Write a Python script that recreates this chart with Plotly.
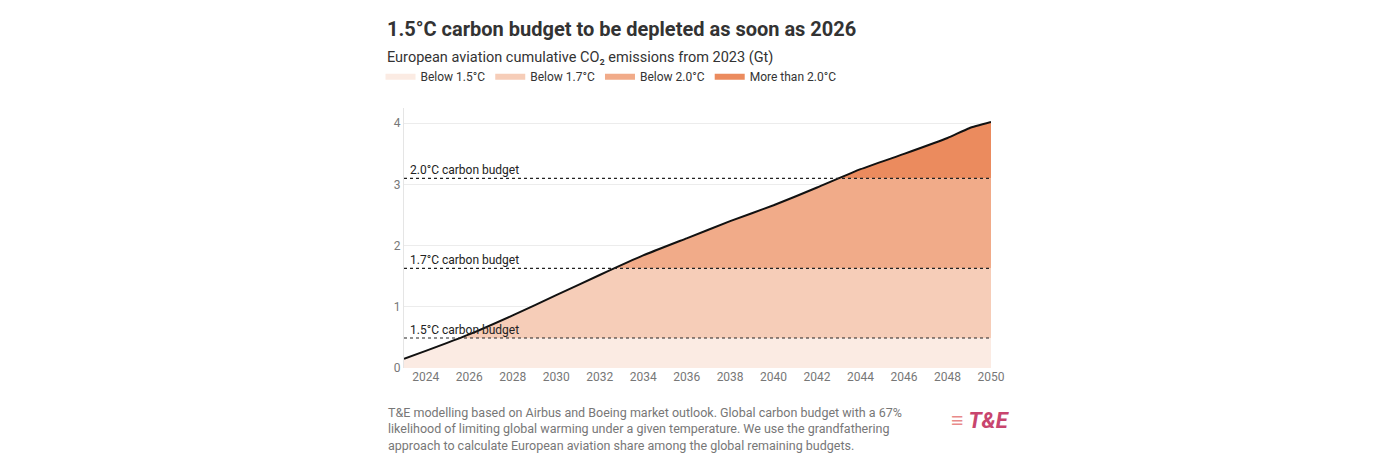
import numpy as np
import plotly.graph_objects as go

years = [2023, 2024, 2026, 2028, 2030, 2032, 2034, 2036, 2038, 2040, 2042, 2044, 2046, 2048, 2049, 2050]
cum = [0.15, 0.28, 0.55, 0.86, 1.19, 1.52, 1.84, 2.12, 2.40, 2.66, 2.95, 3.25, 3.50, 3.76, 3.92, 4.02]
budgets = [0.49, 1.63, 3.10]
budget_names = ["1.5°C carbon budget", "1.7°C carbon budget", "2.0°C carbon budget"]
band_names = ["Below 1.5°C", "Below 1.7°C", "Below 2.0°C", "More than 2.0°C"]
band_colors = ["#fbebe3", "#f6cdb8", "#f1ab89", "#eb8b5e"]

# dense grid so band edges cut cleanly where the curve crosses a budget
xd = np.linspace(2023, 2050, 541)
cd = np.interp(xd, years, cum)
edges = [0] + budgets + [10]

fig = go.Figure()
for i, name in enumerate(band_names):
    part = np.clip(cd - edges[i], 0, edges[i + 1] - edges[i])
    fig.add_trace(go.Scatter(x=xd, y=part, name=name, stackgroup="a", mode="none",
                             fillcolor=band_colors[i], hoverinfo="skip"))
fig.add_trace(go.Scatter(x=years, y=cum, mode="lines", line=dict(color="#111", width=2, shape="spline", smoothing=0.4),
                         showlegend=False))

for b, n in zip(budgets, budget_names):
    fig.add_hline(y=b, line=dict(color="#222", width=1.2, dash="dot"))
    fig.add_annotation(x=2023.2, y=b, text=n, showarrow=False, xanchor="left", yanchor="bottom",
                       font=dict(size=12, color="#222"), yshift=-1)

fig.add_annotation(xref="paper", yref="paper", x=-0.03, y=-0.135, xanchor="left", yanchor="top", align="left",
                   showarrow=False, font=dict(size=12.5, color="#777"),
                   text="T&E modelling based on Airbus and Boeing market outlook. Global carbon budget with a 67%<br>"
                        "likelihood of limiting global warming under a given temperature. We use the grandfathering<br>"
                        "approach to calculate European aviation share among the global remaining budgets.")
fig.add_annotation(xref="paper", yref="paper", x=1.035, y=-0.2, xanchor="right", yanchor="middle",
                   showarrow=False, font=dict(size=22, color="#c8456e", family="Roboto"),
                   text="<b><i><span style='color:#e88a8a'>≡</span> T&E</i></b>")

fig.update_layout(
    width=1400, height=467, plot_bgcolor="white", paper_bgcolor="white",
    margin=dict(l=396, r=417, t=100, b=107),
    font=dict(family="Roboto", color="#333"),
    title=dict(text="<b>1.5°C carbon budget to be depleted as soon as 2026</b><br>"
                    "<span style='font-size:14.5px'>European aviation cumulative CO₂ emissions from 2023 (Gt)</span>",
               x=379 / 1400, xref="container", xanchor="left", y=0.94, yanchor="top",
               font=dict(size=20, color="#333")),
    legend=dict(orientation="h", x=-0.04, y=1.12, xanchor="left", yanchor="middle",
                font=dict(size=12, color="#333"), traceorder="normal"),
    xaxis=dict(range=[2023, 2050], tickvals=list(range(2024, 2051, 2)), showgrid=False,
               tickfont=dict(size=12, color="#777"), ticks="", zeroline=False),
    yaxis=dict(range=[0, 4.25], tickvals=[0, 1, 2, 3, 4], gridcolor="#ececec", zeroline=False,
               showline=True, linecolor="#e5e5e5", tickfont=dict(size=12, color="#777")),
)
fig.write_html("out.html")
